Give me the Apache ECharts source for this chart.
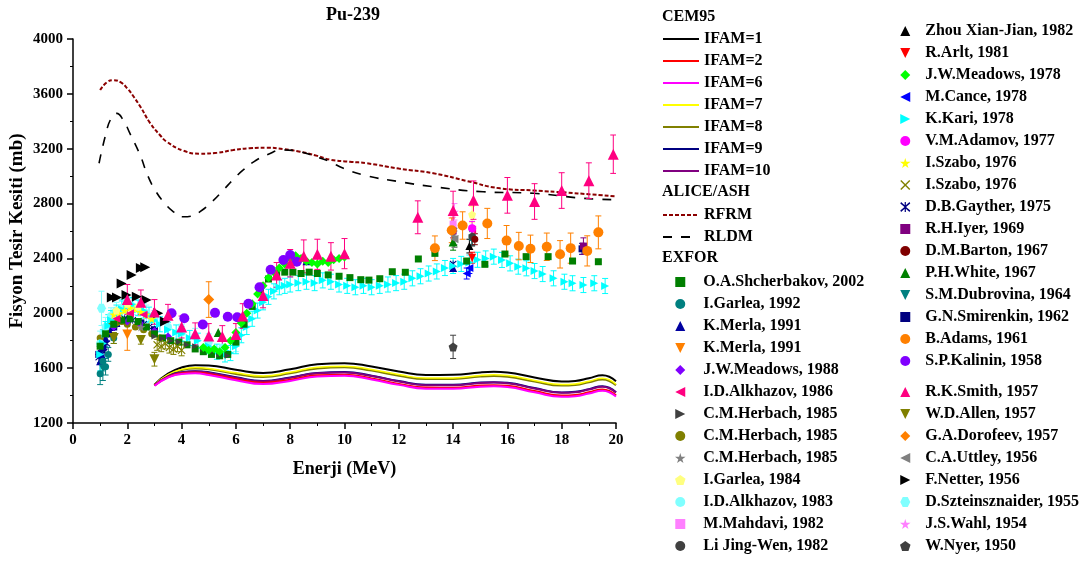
<!DOCTYPE html>
<html><head><meta charset="utf-8">
<script src="https://cdn.jsdelivr.net/npm/echarts@6/dist/echarts.min.js"></script>
<style>html,body{margin:0;padding:0;background:#fff}#c{width:1090px;height:563px}</style>
</head><body><div id="c"></div>
<script>
// ---------- axis ticks ----------
const xTicks = {min: 0, max: 20, interval: 2};
const yTicks = {min: 1200, max: 4000, interval: 400};

// ---------- CEM95 curves (E, sigma) ----------
const cemE = [3,3.5,4,4.5,5,6,7,8,9,10,11,12,13,14,15,15.5,16,17,18,18.5,19,19.5,20];
const ifam1  = [1480,1560,1605,1622,1620,1588,1565,1592,1628,1636,1612,1575,1550,1551,1569,1573,1568,1532,1503,1507,1527,1548,1505];
const ifam7  = [1478,1552,1591,1604,1598,1566,1543,1570,1606,1614,1590,1553,1528,1529,1547,1551,1546,1510,1481,1485,1505,1526,1483];
const ifam8  = [1477,1549,1587,1598,1592,1558,1535,1562,1598,1606,1582,1545,1520,1521,1539,1543,1538,1502,1473,1477,1497,1518,1475];
const ifam9  = [1475,1540,1571,1578,1570,1533,1507,1532,1565,1571,1545,1506,1479,1479,1495,1498,1493,1455,1423,1427,1447,1468,1425];
const ifam10 = [1474,1538,1568,1575,1567,1530,1504,1529,1562,1568,1542,1503,1476,1476,1492,1495,1490,1452,1420,1424,1444,1465,1422];
const ifam2  = [1473,1535,1563,1568,1558,1521,1493,1516,1548,1552,1525,1485,1458,1457,1473,1476,1471,1433,1400,1404,1424,1445,1402];
const ifam6  = [1472,1532,1558,1562,1550,1512,1484,1507,1539,1544,1517,1478,1450,1449,1465,1468,1463,1424,1391,1395,1415,1436,1393];

// ---------- ALICE/ASH curves ----------
const rfrm = [[1.0,3628],[1.25,3685],[1.5,3700],[1.75,3685],[2.0,3640],[2.25,3575],[2.5,3500],[2.84,3387],[3.2,3300],[3.45,3251],[4.06,3186],[4.68,3164],[5.3,3170],[5.9,3190],[6.5,3203],[7.13,3207],[7.75,3198],[8.36,3178],[9.0,3148],[9.47,3120],[10.2,3105],[10.82,3094],[12,3055],[13.27,3021],[14.5,2965],[15.73,2911],[17,2895],[18.18,2880],[19,2868],[20,2852]];
const rldm = [[0.96,3094],[1.2,3300],[1.4,3420],[1.61,3458],[1.85,3409],[2.1,3310],[2.47,3154],[2.77,2996],[3.05,2890],[3.33,2814],[3.7,2740],[4.06,2704],[4.4,2710],[4.68,2741],[5.1,2810],[5.54,2899],[5.9,2975],[6.27,3045],[6.7,3110],[7.13,3154],[7.75,3191],[8.36,3178],[8.9,3145],[9.47,3105],[9.96,3057],[10.82,3003],[12.04,2959],[13.27,2923],[15.11,2886],[16.96,2875],[18.8,2838],[20,2828]];

// ---------- EXFOR data [E, sigma, err] ----------
const shcherbakov = [[1.0,1760],[1.2,1850],[1.5,1920],[1.8,1950],[2.1,1960],[2.4,1940],[2.7,1900],[3.0,1850],[3.3,1820],[3.6,1800],[3.9,1790],[4.2,1770],[4.5,1740],[4.8,1720],[5.1,1700],[5.4,1690],[5.7,1700],[6.0,1790],[6.3,1920],[6.6,2050],[6.9,2160],[7.2,2250],[7.5,2290],[7.8,2300],[8.1,2300],[8.4,2290],[8.7,2300],[9.0,2290],[9.4,2280],[9.8,2270],[10.2,2260],[10.6,2245],[10.9,2242],[11.3,2252],[11.76,2303],[12.24,2299],[12.72,2396],[13.33,2437],[14.5,2381],[15.17,2357],[15.91,2432],[16.69,2413],[17.5,2413],[18.4,2381],[19.35,2376]];
const garlea92 = [[1.0,1560,80],[1.1,1650,70],[1.2,1610,60],[1.3,1700,50],[1.5,1820,40],[14.7,2550,50]];
const merlaTri = [[1.0,1650],[1.05,1700],[1.1,1760],[1.2,1820],[1.3,1870],[1.4,1900],[1.6,1930],[1.8,1950],[2.0,1960],[8.6,2380],[14.0,2330]];
const merlaDown = [[2.0,1845,115]];
const meadows88 = [[1.5,1900],[2.0,1940],[2.5,1920],[3.0,1870],[3.5,1830]];
const alkhazov86 = [[1.6,1960],[2.1,2000],[2.6,1990],[14.7,2610]];
const herbachTri = [[3.0,1830],[3.3,1815],[3.6,1800],[3.9,1790],[4.2,1770],[4.5,1760],[4.8,1740],[5.1,1720],[5.4,1700],[5.7,1690]];
const herbachCirc = [[1.0,1820],[1.2,1880],[1.4,1920],[1.6,1930],[1.8,1940],[2.0,1920],[2.3,1900],[2.6,1880],[2.9,1850],[3.2,1820]];
const herbachStar = [[2.5,1900],[14.05,2560,60]];
const garlea84 = [[1.6,2020],[2.0,2070],[2.4,2050],[14.7,2720,60]];
const alkhazov83 = [[1.0,1780,90],[1.2,1900,70],[1.4,1980,60],[1.6,2020,60],[1.8,2040,60],[2.0,2060,60],[2.2,2050,60],[2.4,2040,60],[2.7,2000,60],[3.0,1960,60],[3.5,1900,60],[4.0,1860,60],[4.5,1830,60],[5.0,1790,60],[5.5,1750,60],[6.0,1780,60]];
const mahdavi = [[14.0,2650,50]];
const liJingWen = [[14.7,2560,70]];
const zhou = [[14.6,2490,50]];
const arlt = [[14.7,2405,40]];
const meadows78 = [[4.8,1750],[5.0,1730],[5.2,1740],[5.4,1720],[5.6,1750],[5.8,1800],[6.0,1860],[6.2,1930],[6.4,2000],[6.6,2070],[6.8,2140],[7.0,2200],[7.2,2260],[7.4,2300],[7.6,2330],[7.8,2360],[8.0,2400],[8.2,2420],[8.4,2400],[8.6,2380],[8.8,2370],[9.0,2360],[9.2,2380],[9.4,2370],[9.6,2390],[9.8,2400],[10.0,2410]];
const cance = [[14.5,2290,40],[14.6,2330,40]];
const kari = [[1.0,1700,120],[1.1,1780,100],[1.2,1850,90],[1.3,1910,80],[1.4,1950,70],[1.6,2000,60],[1.8,2030,60],[2.0,2050,55],[2.2,2060,55],[2.4,2040,55],[2.6,2020,55],[2.8,1990,55],[3.0,1950,55],[3.2,1920,55],[3.5,1880,55],[3.8,1860,55],[4.0,1850,55],[4.3,1820,55],[4.6,1800,55],[5.0,1760,55],[5.3,1720,55],[5.6,1700,55],[5.8,1710,55],[6.0,1760,55],[6.2,1840,55],[6.4,1900,55],[6.6,1960,55],[6.8,2020,55],[7.0,2080,55],[7.2,2120,55],[7.4,2160,55],[7.6,2190,55],[7.8,2200,55],[8.0,2210,55],[8.3,2220,55],[8.6,2230,55],[8.9,2220,55],[9.2,2240,55],[9.5,2230,55],[9.8,2210,55],[10.1,2200,55],[10.4,2190,55],[10.7,2200,55],[11.0,2190,55],[11.3,2200,55],[11.6,2210,55],[11.9,2220,55],[12.2,2230,55],[12.5,2255,55],[12.8,2270,55],[13.1,2290,55],[13.4,2305,55],[13.7,2330,55],[14.0,2345,55],[14.3,2360,55],[14.6,2370,55],[14.9,2390,55],[15.2,2400,55],[15.5,2413,55],[15.8,2389,55],[16.1,2364,55],[16.4,2340,55],[16.7,2328,55],[17.0,2308,55],[17.3,2286,55],[17.7,2255,55],[18.1,2230,55],[18.4,2219,55],[18.8,2206,55],[19.2,2219,55],[19.6,2199,55]];
const adamov = [[14.7,2620,50]];
const szaboStar = [[1.5,1990],[1.7,2000],[1.9,2020],[2.1,2040],[2.3,2030],[2.5,2010],[2.7,1990],[2.9,1960]];
const szaboX = [[3.1,1770,40],[3.25,1760,40],[3.4,1780,40],[3.55,1750,40],[3.7,1740,40],[3.85,1760,40],[4.0,1730,40]];
const gayther = [[0.95,1680],[1.0,1740],[1.05,1660],[1.1,1800],[1.15,1720],[1.2,1850],[1.25,1780],[1.3,1880],[1.4,1900],[1.5,1920],[1.6,1930],[1.7,1950],[1.8,1945],[1.9,1960],[2.0,1955],[2.2,1950],[2.4,1940],[2.6,1920],[2.8,1900],[3.0,1880],[14.0,2360]];
const iyer = [[14.0,2600,50],[18.8,2490,60]];
const barton = [[14.8,2540,40]];
const white = [[5.35,1860],[14.0,2520,60]];
const dubrovina = [[1.1,1600,90],[14.7,2545,50]];
const smirenkin = [[0.95,1700],[1.1,1750],[1.3,1850],[1.5,1900],[2.0,1950],[2.5,1930],[3.0,1880],[18.75,2470,40]];
const adams = [[13.33,2474,90],[13.95,2605,90],[14.35,2640,100],[15.26,2655,110],[15.97,2530,110],[16.42,2490,100],[16.85,2470,100],[17.45,2485,100],[17.94,2430,100],[18.33,2475,110],[18.94,2455,110],[19.35,2590,120]];
const kalinin = [[3.63,2000],[4.1,1964],[4.78,1918],[5.23,2003],[5.7,1975],[6.05,1971],[6.46,2070],[6.87,2190],[7.28,2318],[7.75,2388],[8.0,2425],[8.24,2376]];
const smith = [[2.0,2100,110],[2.5,2080,90],[3.0,2010,90],[3.5,1985,80],[4.0,1900,80],[4.5,1850,80],[5.0,1835,90],[5.5,1830,80],[6.0,1845,80],[6.25,1980,90],[7.0,2130,90],[7.5,2280,90],[8.0,2365,100],[8.5,2415,120],[9.0,2430,110],[9.5,2415,100],[10.0,2435,110],[12.7,2700,120],[14.0,2750,140],[14.75,2825,140],[16.0,2860,130],[17.0,2815,130],[18.0,2895,130],[19.0,2967,130],[19.9,3160,140]];
const allen = [[1.5,1820,40],[2.5,1805,30],[3.0,1665,50]];
const dorofeev = [[5.0,2100,130]];
const uttley = [[14.05,2540,60]];
const netter = [[1.43,2115],[1.62,2115],[1.79,2218],[1.97,2133],[2.16,2279],[2.35,2121],[2.5,2330],[2.66,2335],[2.71,2097],[3.14,2000],[3.39,1940]];
const szteinsznaider = [[1.05,2036,125]];
const wahl = [[14.05,2740,60]];
const nyer = [[14.0,1755,85]];

// ---------- symbols ----------
const S = {
  up: 'path://M5,0L10,10L0,10Z',
  down: 'path://M0,0L10,0L5,10Z',
  right: 'path://M0,0L10,5L0,10Z',
  left: 'path://M10,0L0,5L10,10Z',
  sq: 'path://M0,0L10,0L10,10L0,10Z',
  dia: 'path://M5,0L10,5L5,10L0,5Z',
  circ: 'circle',
  star: 'path://M50,0L61,35L98,35L68,57L79,91L50,70L21,91L32,57L2,35L39,35Z',
  pent: 'path://M50,0L98,35L79,91L21,91L2,35Z',
  hex: 'path://M25,0L75,0L100,50L75,100L25,100L0,50Z',
  cross: 'path://M0,10L10,0L50,40L90,0L100,10L60,50L100,90L90,100L50,60L10,100L0,90L40,50Z',
  aster: 'path://M0,14L8,0L50,38L92,0L100,14L58,50L100,86L92,100L50,62L8,100L0,86L42,50Z M44,0L56,0L56,100L44,100Z'
};
const FONT = '"Liberation Serif","Times New Roman",serif';

function curve(name, xs, ys, color, width, type) {
  return {type:'line', name, data: xs.map((x,i)=>[x, ys[i]]), smooth:0.5, symbol:'none', showSymbol:false,
    lineStyle:{color, width, type:type||'solid'}, itemStyle:{color}, z:2, silent:true};
}
function curveXY(name, pts, color, width, type) {
  return {type:'line', name, data: pts, smooth:0.5, symbol:'none', showSymbol:false,
    lineStyle:{color, width, type}, itemStyle:{color}, z:2, silent:true};
}
function errRender(color) {
  return function(params, api) {
    const x = api.value(0), y = api.value(1), e = api.value(2);
    const hi = api.coord([x, y + e]), lo = api.coord([x, y - e]);
    const w = 3, st = {stroke: color, lineWidth: 1};
    return {type:'group', children:[
      {type:'line', shape:{x1:hi[0], y1:hi[1], x2:lo[0], y2:lo[1]}, style:st},
      {type:'line', shape:{x1:hi[0]-w, y1:hi[1], x2:hi[0]+w, y2:hi[1]}, style:st},
      {type:'line', shape:{x1:lo[0]-w, y1:lo[1], x2:lo[0]+w, y2:lo[1]}, style:st}
    ]};
  };
}
const series = [];
function exp(name, data, color, symbol, size) {
  const withErr = data.filter(d => d.length > 2);
  if (withErr.length) {
    series.push({type:'custom', data: withErr, renderItem: errRender(color), encode:{x:0, y:1}, z:3, silent:true, clip:true});
  }
  series.push({type:'scatter', name, data: data.map(d => [d[0], d[1]]), symbol, symbolSize:size,
    itemStyle: {color, opacity:1}, z:4, silent:true});
}

// experimental series (drawing order)
exp('D.B.Gayther, 1975', gayther, '#000080', S.aster, 7);
exp('G.N.Smirenkin, 1962', smirenkin, '#000080', S.sq, 7);
exp('K.Merla, 1991', merlaTri, '#0000A0', S.up, 8);
exp('I.Garlea, 1992', garlea92, '#008080', S.circ, 7);
exp('S.M.Dubrovina, 1964', dubrovina, '#008080', S.down, 8);
exp('C.M.Herbach, 1985 ', herbachCirc, '#808000', S.circ, 7);
exp('J.W.Meadows, 1988', meadows88, '#8000FF', S.dia, 8);
exp('I.D.Alkhazov, 1983', alkhazov83, '#80FFFF', S.circ, 8);
exp('K.Kari, 1978', kari, '#00FFFF', S.right, 8);
exp('O.A.Shcherbakov, 2002', shcherbakov, '#007F00', S.sq, 7);
exp('I.Szabo, 1976', szaboStar, '#FFFF00', S.star, 9);
exp('I.Garlea, 1984', garlea84, '#FFFF80', S.pent, 8);
exp('C.M.Herbach, 1985', herbachTri, '#404040', S.right, 6);
exp('C.M.Herbach, 1985  ', herbachStar, '#808080', S.star, 9);
exp('I.Szabo, 1976 ', szaboX, '#808000', S.cross, 8);
exp('J.W.Meadows, 1978', meadows78, '#00FF00', S.dia, 9);
exp('P.H.White, 1967', white, '#008000', S.up, 9);
exp('I.D.Alkhazov, 1986', alkhazov86, '#FF0080', S.left, 8);
exp('M.Mahdavi, 1982', mahdavi, '#FF80FF', S.sq, 7);
exp('Li Jing-Wen, 1982', liJingWen, '#404040', S.circ, 7);
exp('Zhou Xian-Jian, 1982', zhou, '#000000', S.up, 8);
exp('R.Arlt, 1981', arlt, '#FF0000', S.down, 8);
exp('M.Cance, 1978', cance, '#0000FF', S.left, 8);
exp('V.M.Adamov, 1977', adamov, '#FF00FF', S.circ, 8);
exp('R.H.Iyer, 1969', iyer, '#800080', S.sq, 7);
exp('D.M.Barton, 1967', barton, '#800000', S.circ, 7);
exp('C.A.Uttley, 1956', uttley, '#808080', S.left, 8);
exp('J.S.Wahl, 1954', wahl, '#FF80FF', S.star, 9);
exp('B.Adams, 1961', adams, '#FF8000', S.circ, 10);
exp('W.D.Allen, 1957', allen, '#808000', S.down, 10);
exp('K.Merla, 1991 ', merlaDown, '#FF8000', S.down, 10);
exp('G.A.Dorofeev, 1957', dorofeev, '#FF8000', S.dia, 11);
exp('D.Szteinsznaider, 1955', szteinsznaider, '#80FFFF', S.hex, 9);
exp('W.Nyer, 1950', nyer, '#404040', S.pent, 9);
exp('S.P.Kalinin, 1958', kalinin, '#8000FF', S.circ, 10);
exp('F.Netter, 1956', netter, '#000000', S.right, 10);
exp('R.K.Smith, 1957', smith, '#FF0080', S.up, 11);

series.push(curve('IFAM=1', cemE, ifam1, '#000000', 2));
series.push(curve('IFAM=8', cemE, ifam8, '#808000', 2));
series.push(curve('IFAM=7', cemE, ifam7, '#FFFF00', 1.5));
series.push(curve('IFAM=9', cemE, ifam9, '#000080', 2));
series.push(curve('IFAM=10', cemE, ifam10, '#800080', 2));
series.push(curve('IFAM=2', cemE, ifam2, '#FF0000', 2));
series.push(curve('IFAM=6', cemE, ifam6, '#FF00FF', 2));
series.push(curveXY('RFRM', rfrm, '#8B0000', 2, [4, 2]));
series.push(curveXY('RLDM', rldm, '#000000', 1.6, [9, 9]));

// ---------- legends ----------
const legIFAM = ['IFAM=1','IFAM=2','IFAM=6','IFAM=7','IFAM=8','IFAM=9','IFAM=10'];
const legASH = ['RFRM','RLDM'];
const legEx1 = ['O.A.Shcherbakov, 2002','I.Garlea, 1992','K.Merla, 1991','K.Merla, 1991 ','J.W.Meadows, 1988','I.D.Alkhazov, 1986','C.M.Herbach, 1985','C.M.Herbach, 1985 ','C.M.Herbach, 1985  ','I.Garlea, 1984','I.D.Alkhazov, 1983','M.Mahdavi, 1982','Li Jing-Wen, 1982'];
const legEx2 = ['Zhou Xian-Jian, 1982','R.Arlt, 1981','J.W.Meadows, 1978','M.Cance, 1978','K.Kari, 1978','V.M.Adamov, 1977','I.Szabo, 1976','I.Szabo, 1976 ','D.B.Gayther, 1975','R.H.Iyer, 1969','D.M.Barton, 1967','P.H.White, 1967','S.M.Dubrovina, 1964','G.N.Smirenkin, 1962','B.Adams, 1961','S.P.Kalinin, 1958'];
const legEx3 = ['R.K.Smith, 1957','W.D.Allen, 1957','G.A.Dorofeev, 1957','C.A.Uttley, 1956','F.Netter, 1956','D.Szteinsznaider, 1955','J.S.Wahl, 1954','W.Nyer, 1950'];

function legend(data, left, top, iw, hideSymbol) {
  const l = {data, left, top, orient:'vertical', itemWidth: iw, itemHeight: 10, itemGap: 6,
    selectedMode:false, padding:0, formatter: n => n.trim(),
    textStyle:{fontFamily:FONT, fontWeight:'bold', fontSize:16, color:'#000', lineHeight:16}};
  if (hideSymbol) l.itemStyle = {opacity: 0};
  return l;
}

const chart = echarts.init(document.getElementById('c'), null, {renderer:'canvas'});
chart.setOption({
  animation:false,
  backgroundColor:'#fff',
  title:{text:'Pu-239', left:321, top:1, textStyle:{fontFamily:FONT, fontWeight:'bold', fontSize:18, color:'#000'}},
  grid:{left:73, right:474, top:39, bottom:140},
  xAxis:{type:'value', min:xTicks.min, max:xTicks.max, interval:xTicks.interval,
    name:'Enerji (MeV)', nameLocation:'middle', nameGap:37,
    nameTextStyle:{fontFamily:FONT, fontWeight:'bold', fontSize:18, color:'#000'},
    axisLine:{show:true, onZero:false, lineStyle:{color:'#000', width:1.5}},
    axisTick:{show:true, inside:false, length:6, lineStyle:{color:'#000', width:1.5}},
    minorTick:{show:true, splitNumber:2, length:3, lineStyle:{color:'#000', width:1}},
    splitLine:{show:false},
    axisLabel:{fontFamily:FONT, fontWeight:'bold', fontSize:15, color:'#000', margin:10, formatter: v => String(v)}},
  yAxis:{type:'value', min:yTicks.min, max:yTicks.max, interval:yTicks.interval,
    name:'Fisyon Tesir Kesiti (mb)', nameLocation:'middle', nameGap:46,
    nameTextStyle:{fontFamily:FONT, fontWeight:'bold', fontSize:19, color:'#000'},
    axisLine:{show:true, onZero:false, lineStyle:{color:'#000', width:1.5}},
    axisTick:{show:true, inside:false, length:6, lineStyle:{color:'#000', width:1.5}},
    minorTick:{show:true, splitNumber:2, length:3, lineStyle:{color:'#000', width:1}},
    splitLine:{show:false},
    axisLabel:{fontFamily:FONT, fontWeight:'bold', fontSize:15, color:'#000', margin:10, formatter: v => String(v)}},
  legend:[
    legend(legIFAM, 662, 31, 36, true),
    legend(legASH, 662, 207, 36, true),
    legend(legEx1, 675, 274, 36),
    legend(legEx2, 900, 23, 30),
    legend(legEx3, 900, 384, 30)
  ],
  graphic:[
    {type:'text', left:662, top:9, style:{text:'CEM95', font:'bold 16px ' + FONT, fill:'#000'}},
    {type:'text', left:662, top:184, style:{text:'ALICE/ASH', font:'bold 16px ' + FONT, fill:'#000'}},
    {type:'text', left:662, top:250, style:{text:'EXFOR', font:'bold 16px ' + FONT, fill:'#000'}}
  ],
  series
});
</script></body></html>
